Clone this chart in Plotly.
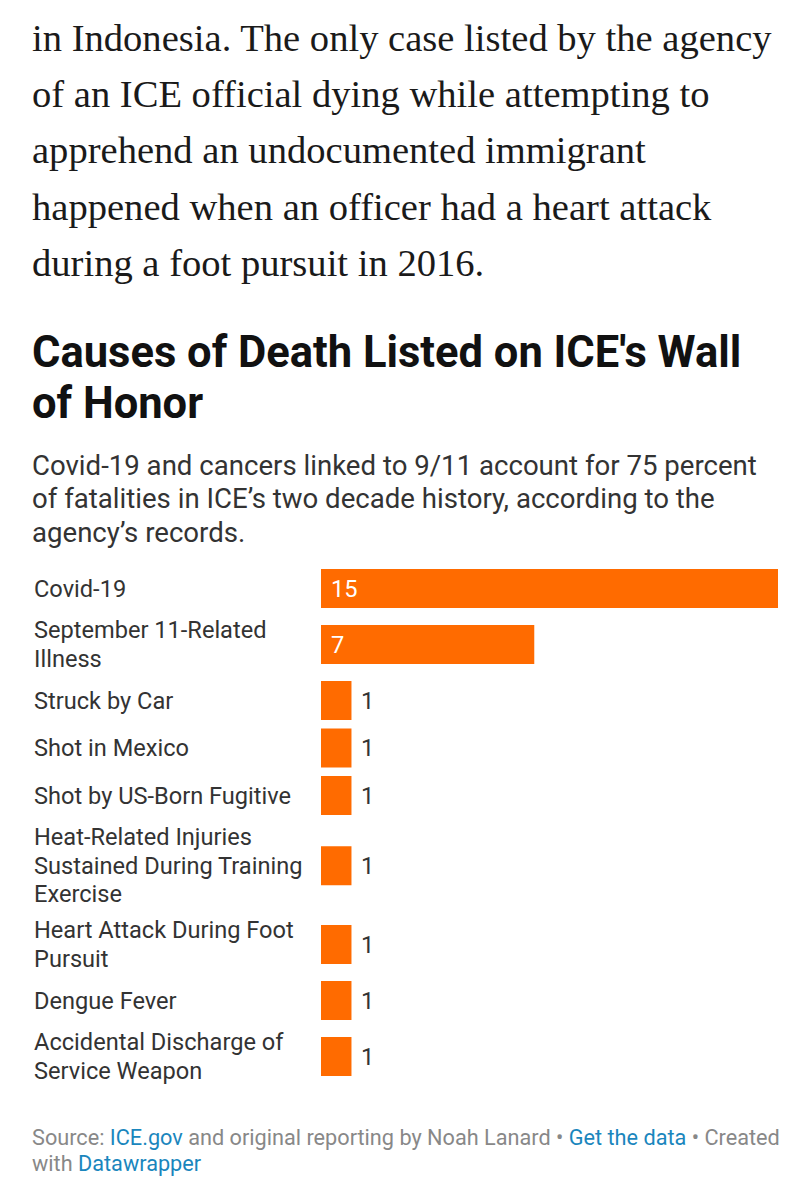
import plotly.graph_objects as go

# article text above the chart
body_lines = [
    "in Indonesia. The only case listed by the agency",
    "of an ICE official dying while attempting to",
    "apprehend an undocumented immigrant",
    "happened when an officer had a heart attack",
    "during a foot pursuit in 2016.",
]
title_lines = ["Causes of Death Listed on ICE's Wall", "of Honor"]
subtitle_lines = [
    "Covid-19 and cancers linked to 9/11 account for 75 percent",
    "of fatalities in ICE’s two decade history, according to the",
    "agency’s records.",
]
footer_lines = [
    "Source: <span style='color:#1a86bd'>ICE.gov</span> and original reporting by Noah Lanard"
    " • <span style='color:#1a86bd'>Get the data</span> • Created",
    "with <span style='color:#1a86bd'>Datawrapper</span>",
]

causes = [
    "Covid-19",
    "September 11-Related<br>Illness",
    "Struck by Car",
    "Shot in Mexico",
    "Shot by US-Born Fugitive",
    "Heat-Related Injuries<br>Sustained During Training<br>Exercise",
    "Heart Attack During Foot<br>Pursuit",
    "Dengue Fever",
    "Accidental Discharge of<br>Service Weapon",
]
deaths = [15, 7, 1, 1, 1, 1, 1, 1, 1]

WIDTH, HEIGHT = 812, 1200
BAR_H = 39
ROW_MIN = 40
ROW_GAP = 7.5
LINE_H = 28.5
BAR_LEFT, BAR_RIGHT = 321, 778

# rows grow with the number of label lines, y axis runs in page pixels
row_centers = []
pos = 568.5
for cause in causes:
    row_h = max(ROW_MIN, (cause.count("<br>") + 1) * LINE_H)
    row_centers.append(pos + row_h / 2)
    pos += row_h + ROW_GAP

fig = go.Figure()
fig.add_trace(go.Bar(
    x=deaths,
    y=row_centers,
    width=BAR_H,
    orientation="h",
    marker=dict(color="#ff6b00", line_width=0),
    hoverinfo="skip",
))


def add_text(text, x, y, size, color, family="Roboto"):
    # annotation boxes add 2px of padding on the left
    fig.add_annotation(
        text=text, x=(x - 2) / WIDTH, y=y, xref="paper", yref="y",
        xanchor="left", yanchor="middle", align="left", showarrow=False,
        font=dict(family=family, size=size, color=color),
    )


for i, line in enumerate(body_lines):
    add_text(line, 32, 38 + i * 56.2, 38.6, "#1a1a1a", "Liberation Serif")
for i, line in enumerate(title_lines):
    add_text(f"<b>{line}</b>", 32, 352 + i * 51, 43.5, "#111111")
for i, line in enumerate(subtitle_lines):
    add_text(line, 32, 465 + i * 33.5, 27.6, "#333333")
for i, line in enumerate(footer_lines):
    add_text(line, 32, 1137 + i * 26, 21.7, "#888888")

for cause, y in zip(causes, row_centers):
    parts = cause.split("<br>")
    for i, part in enumerate(parts):
        add_text(part, 34, y + (i - (len(parts) - 1) / 2) * LINE_H, 23.6, "#333333")

for value, y in zip(deaths, row_centers):
    inside = value > 1
    fig.add_annotation(
        text=str(value), x=value if not inside else 0, y=y, xref="x", yref="y",
        xanchor="left", yanchor="middle", showarrow=False, xshift=8,
        font=dict(family="Roboto", size=23.6, color="#ffffff" if inside else "#333333"),
    )

fig.update_layout(
    width=WIDTH,
    height=HEIGHT,
    margin=dict(l=0, r=0, t=0, b=0),
    paper_bgcolor="#ffffff",
    plot_bgcolor="#ffffff",
    showlegend=False,
    xaxis=dict(domain=[BAR_LEFT / WIDTH, BAR_RIGHT / WIDTH], range=[0, 15], visible=False),
    yaxis=dict(range=[HEIGHT, 0], visible=False),
)
fig.write_html("out.html", config={"displayModeBar": False},
               post_script="document.body.style.margin='0';")
